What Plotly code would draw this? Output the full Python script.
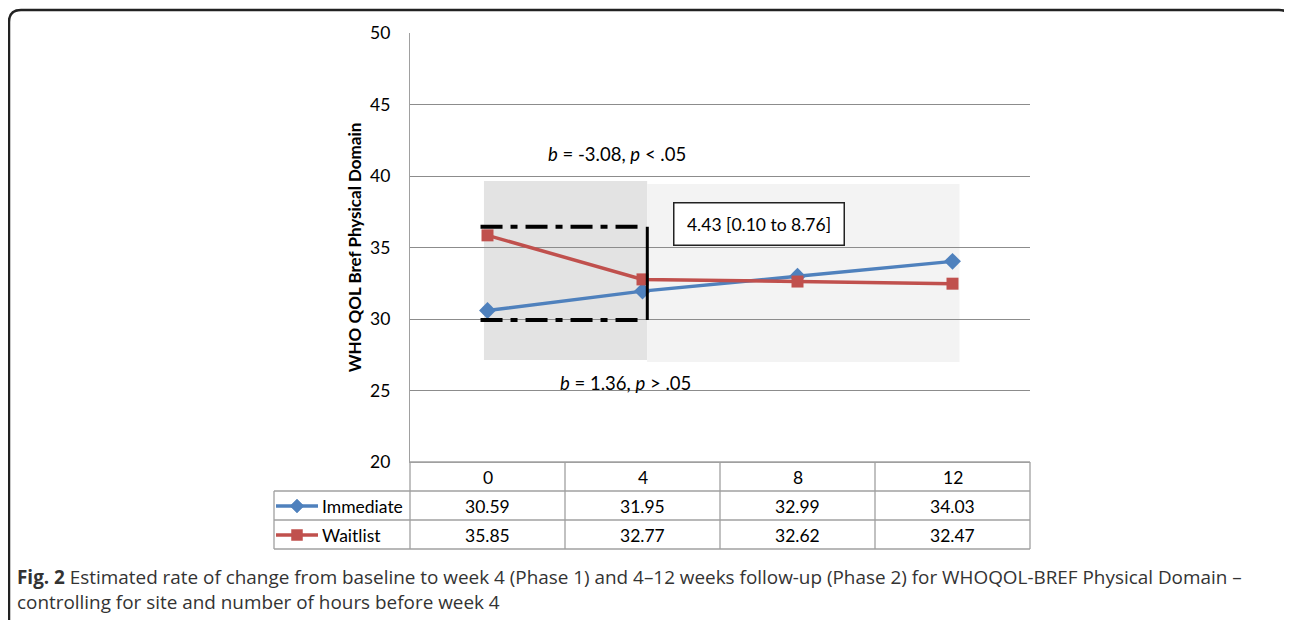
import plotly.graph_objects as go

# ---- data ----
weeks = ["0", "4", "8", "12"]
immediate = [30.59, 31.95, 32.99, 34.03]
waitlist = [35.85, 32.77, 32.62, 32.47]
y_ticks = [20, 25, 30, 35, 40, 45, 50]
ci_upper = 36.45
ci_lower = 29.93
phase1_note = "<i>b</i> = -3.08, <i>p</i> < .05"
phase2_note = "<i>b</i> = 1.36, <i>p</i> > .05"
diff_note = "4.43 [0.10 to 8.76]"
caption1 = "<b>Fig. 2</b> Estimated rate of change from baseline to week 4 (Phase 1) and 4\u201312 weeks follow-up (Phase 2) for WHOQOL-BREF Physical Domain \u2013"
caption2 = "controlling for site and number of hours before week 4"

BLUE = "#4f81bd"
RED = "#c0504d"
GRID = "#8c8c8c"
TBL = "#a0a0a0"
FONT = "Lato"

OFF = 8  # page body margin
W, H = 1292 - OFF, 620 - OFF
ML, MT = 410 - OFF, 33 - OFF
MR = W - (1030 - OFF)
MB = H - (462 - OFF)
PW, PH = W - ML - MR, H - MT - MB

def px(xp):  # screen pixel -> paper x
    return (xp - OFF - ML) / PW

def py(yp):  # screen pixel -> paper y
    return (H - MB - (yp - OFF)) / PH

def xval(xp):
    return (xp - 487.5) / (PW / len(weeks))

def yval(yp):
    return 50 - (yp - 33) / (PH / 30)

xi = list(range(len(weeks)))

fig = go.Figure()
fig.add_trace(go.Scatter(x=xi, y=immediate, mode="lines+markers", name="Immediate",
                         line=dict(color=BLUE, width=3.5),
                         marker=dict(symbol="diamond", size=13, color=BLUE)))
fig.add_trace(go.Scatter(x=xi, y=waitlist, mode="lines+markers", name="Waitlist",
                         line=dict(color=RED, width=3.5),
                         marker=dict(symbol="square", size=12, color=RED)))

shapes = []
# shaded phase areas
shapes.append(dict(type="rect", xref="x", yref="y", x0=-0.023, x1=1.03, y0=27.13, y1=39.65,
                   fillcolor="#e3e3e3", line=dict(width=0), layer="below"))
shapes.append(dict(type="rect", xref="x", yref="y", x0=1.03, x1=3.045, y0=26.99, y1=39.44,
                   fillcolor="#f3f3f3", line=dict(width=0), layer="below"))
# CI dash-dot lines + vertical bar
for yv in (ci_upper, ci_lower):
    shapes.append(dict(type="line", xref="x", yref="y", x0=-0.045, x1=1.0, y0=yv, y1=yv,
                       line=dict(color="black", width=4, dash="22px,8px,7px,8px")))
shapes.append(dict(type="line", xref="x", yref="y", x0=1.031, x1=1.031, y0=ci_lower, y1=ci_upper,
                   line=dict(color="black", width=3)))

# table lines
row_y = [462, 491, 520, 549]
tbl_left = 274
for i, yp in enumerate(row_y):
    x0 = 410 if i == 0 else tbl_left
    shapes.append(dict(type="line", xref="paper", yref="paper", x0=px(x0), x1=px(1030),
                       y0=py(yp), y1=py(yp), line=dict(color=TBL, width=1.3)))
for k in range(len(weeks) + 1):
    xp = 410 + k * PW / len(weeks)
    shapes.append(dict(type="line", xref="paper", yref="paper", x0=px(xp), x1=px(xp),
                       y0=py(row_y[0]), y1=py(row_y[-1]), line=dict(color=TBL, width=1.3)))
shapes.append(dict(type="line", xref="paper", yref="paper", x0=px(tbl_left), x1=px(tbl_left),
                   y0=py(row_y[1]), y1=py(row_y[-1]), line=dict(color=TBL, width=1.3)))
# legend keys (line + glyph)
for yp, col, sym in ((506, BLUE, "diamond"), (535, RED, "square")):
    shapes.append(dict(type="line", xref="paper", yref="paper", x0=px(276), x1=px(318),
                       y0=py(yp), y1=py(yp), line=dict(color=col, width=3.5)))
    cx = 297
    if sym == "diamond":
        d = 7
        path = (f"M {px(cx - d)},{py(yp)} L {px(cx)},{py(yp - d)} L {px(cx + d)},{py(yp)} "
                f"L {px(cx)},{py(yp + d)} Z")
        shapes.append(dict(type="path", xref="paper", yref="paper", path=path,
                           fillcolor=col, line=dict(color=col, width=0.5)))
    else:
        d = 5.5
        shapes.append(dict(type="rect", xref="paper", yref="paper", x0=px(cx - d), x1=px(cx + d),
                           y0=py(yp + d), y1=py(yp - d), fillcolor=col, line=dict(color=col, width=0.5)))

# outer rounded frame
xl, xr, yt, yb = px(9), px(1291), py(10), py(660)
rx, ry = 12 / PW, 12 / PH
path = (f"M {xl},{yb} L {xl},{yt - ry} Q {xl},{yt} {xl + rx},{yt} "
        f"L {xr - rx},{yt} Q {xr},{yt} {xr},{yt - ry} L {xr},{yb}")
shapes.append(dict(type="path", xref="paper", yref="paper", path=path,
                   line=dict(color="#222222", width=2.5)))

annots = []
tf = dict(family=FONT, size=17.5, color="black")
# header + values
for k, w in enumerate(weeks):
    annots.append(dict(x=k, xref="x", y=py(477), yref="paper", text=w, showarrow=False,
                       font=tf, yanchor="middle", xanchor="center"))
    annots.append(dict(x=k, xref="x", y=py(506), yref="paper", text=f"{immediate[k]:.2f}",
                       showarrow=False, font=tf, yanchor="middle", xanchor="center"))
    annots.append(dict(x=k, xref="x", y=py(535), yref="paper", text=f"{waitlist[k]:.2f}",
                       showarrow=False, font=tf, yanchor="middle", xanchor="center"))
annots.append(dict(x=px(320), xref="paper", y=py(506), yref="paper", text="Immediate",
                   xanchor="left", yanchor="middle", showarrow=False, font=tf))
annots.append(dict(x=px(320), xref="paper", y=py(535), yref="paper", text="Waitlist",
                   xanchor="left", yanchor="middle", showarrow=False, font=tf))
# notes
nf = dict(family=FONT, size=18.5, color="black")
annots.append(dict(x=xval(617), xref="x", y=yval(154), yref="y", text=phase1_note,
                   showarrow=False, font=nf, yanchor="middle", xanchor="center"))
annots.append(dict(x=xval(625), xref="x", y=yval(383), yref="y", text=phase2_note,
                   showarrow=False, font=nf, yanchor="middle", xanchor="center"))
annots.append(dict(x=xval(759), xref="x", y=yval(224), yref="y", text=diff_note,
                   showarrow=False, font=dict(family=FONT, size=17.5, color="black"),
                   bordercolor="#222222", borderwidth=1.5, borderpad=3, bgcolor="white",
                   width=163, height=35, yanchor="middle", xanchor="center"))
# caption
cf = dict(family="Open Sans", size=18.9, color="#333333")
annots.append(dict(x=px(15), xref="paper", y=py(577), yref="paper", text=caption1,
                   xanchor="left", yanchor="middle", showarrow=False, font=cf))
annots.append(dict(x=px(15), xref="paper", y=py(602), yref="paper", text=caption2,
                   xanchor="left", yanchor="middle", showarrow=False, font=cf))

fig.update_layout(
    width=W, height=H,
    margin=dict(l=ML, r=MR, t=MT, b=MB),
    paper_bgcolor="white", plot_bgcolor="white",
    showlegend=False,
    shapes=shapes, annotations=annots,
    font=dict(family=FONT, size=16, color="black"),
    xaxis=dict(range=[-0.5, 3.5], showticklabels=False, showgrid=False, zeroline=False,
               showline=True, linecolor=TBL, linewidth=1.3, fixedrange=True),
    yaxis=dict(range=[20, 50], tickvals=y_ticks, showgrid=True, gridcolor=GRID, gridwidth=1.3,
               zeroline=False, showline=True, linecolor=TBL, linewidth=1.3,
               ticks="", ticklabelstandoff=15, tickfont=dict(family=FONT, size=17.5),
               title=dict(text="<b>WHO QOL Bref Physical Domain</b>", standoff=4,
                          font=dict(family=FONT, size=17))),
)

fig.write_html("out.html")
